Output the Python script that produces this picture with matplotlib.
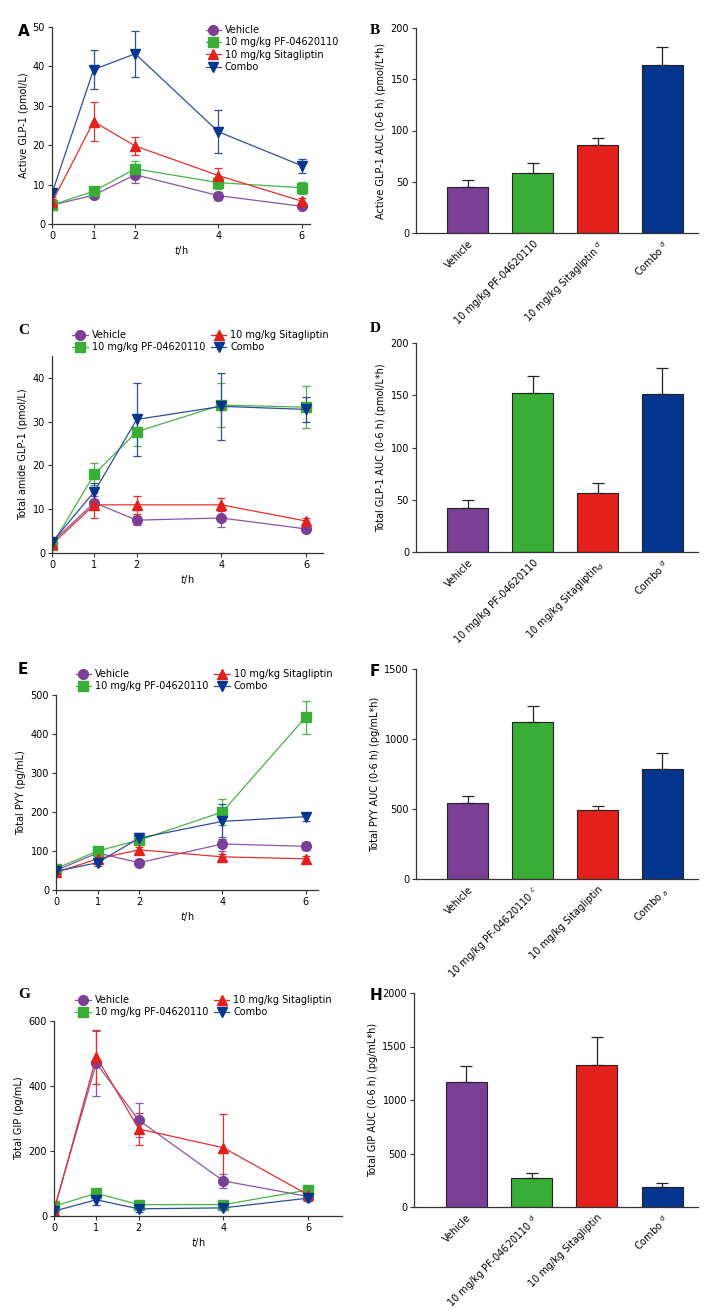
import numpy as np
import matplotlib
matplotlib.use("Agg")
import matplotlib.pyplot as plt
from matplotlib.lines import Line2D

plt.rcParams['font.family'] = ['DejaVu Sans']
plt.rcParams['font.size'] = 7

# --- datos ---
t = [0, 1, 2, 4, 6]
grupos = ['Vehicle', '10 mg/kg PF-04620110', '10 mg/kg Sitagliptin', 'Combo']

# A: Active GLP-1 (pmol/L)
a_veh = [4.8, 7.3, 12.5, 7.2, 4.5]
a_veh_e = [0.5, 0.8, 2.0, 1.0, 0.6]
a_pf = [4.8, 8.3, 14.0, 10.5, 9.2]
a_pf_e = [0.5, 1.2, 2.0, 1.5, 1.5]
a_sit = [5.5, 26.0, 19.8, 12.3, 5.8]
a_sit_e = [0.8, 5.0, 2.3, 1.8, 0.8]
a_com = [7.8, 39.2, 43.2, 23.4, 14.8]
a_com_e = [1.0, 5.0, 5.9, 5.5, 1.8]

# C: Total amide GLP-1 (pmol/L)
c_veh = [2.5, 11.5, 7.5, 8.0, 5.5]
c_veh_e = [0.5, 1.5, 1.0, 2.0, 0.8]
c_pf = [1.8, 18.0, 27.7, 33.8, 33.3]
c_pf_e = [0.5, 2.5, 3.2, 5.0, 4.8]
c_sit = [2.0, 11.0, 11.0, 11.0, 7.3]
c_sit_e = [0.5, 3.0, 2.0, 1.5, 0.8]
c_com = [2.5, 14.0, 30.5, 33.5, 32.8]
c_com_e = [0.5, 2.0, 8.3, 7.7, 2.8]

# E: Total PYY (pg/mL)
e_veh = [50, 95, 70, 118, 112]
e_veh_e = [5, 8, 8, 17, 10]
e_pf = [55, 100, 128, 200, 443]
e_pf_e = [8, 8, 12, 33, 42]
e_sit = [45, 80, 103, 85, 80]
e_sit_e = [5, 8, 8, 8, 8]
e_com = [48, 70, 133, 176, 188]
e_com_e = [5, 8, 13, 45, 10]

# G: Total GIP (pg/mL)
g_veh = [20, 470, 295, 108, 60]
g_veh_e = [5, 100, 52, 22, 8]
g_pf = [30, 70, 35, 35, 80]
g_pf_e = [8, 8, 8, 8, 10]
g_sit = [15, 490, 268, 210, 65]
g_sit_e = [5, 83, 48, 103, 8]
g_com = [15, 50, 22, 25, 55]
g_com_e = [5, 15, 10, 8, 10]

# AUC (barras)
b_auc = [45, 59, 86, 164]
b_err = [7, 9, 7, 17]
d_auc = [42, 152, 56, 151]
d_err = [8, 16, 10, 25]
f_auc = [540, 1125, 490, 785]
f_err = [50, 110, 35, 115]
h_auc = [1170, 275, 1325, 190]
h_err = [145, 40, 260, 35]

b_labels = ['Vehicle', '10 mg/kg PF-04620110', '10 mg/kg Sitagliptin $^{d}$', 'Combo $^{d}$']
d_labels = ['Vehicle', '10 mg/kg PF-04620110', '10 mg/kg Sitagliptin$_{d}$', 'Combo $^{d}$']
f_labels = ['Vehicle', '10 mg/kg PF-04620110 $^{c}$', '10 mg/kg Sitagliptin', 'Combo $_{a}$']
h_labels = ['Vehicle', '10 mg/kg PF-04620110 $^{d}$', '10 mg/kg Sitagliptin', 'Combo $^{d}$']

# --- estilo ---
col_bar = ['#7b3f96', '#3aad36', '#e3201b', '#04368f']
col_lin = ['#8a55a8', '#49b444', '#e3302b', '#2c4f9c']
markers = ['o', 's', '^', 'v']

W, H = 708, 1310
fig = plt.figure(figsize=(W / 100, H / 100), dpi=100)


def caja(l, r, top, bot):
    return [l / W, 1 - bot / H, (r - l) / W, (bot - top) / H]


def estilo(ax):
    for s in ['top', 'right']:
        ax.spines[s].set_visible(False)
    for s in ['left', 'bottom']:
        ax.spines[s].set_color('#333333')
        ax.spines[s].set_linewidth(0.9)
    ax.tick_params(length=3, width=0.8, color='#333333', labelsize=7, pad=2)


def lineas(ax, series, ylim, yticks, ylabel, xmax):
    for i, (y, e) in enumerate(series):
        ax.errorbar(t, y, yerr=e, color=col_lin[i], marker=markers[i],
                    markersize=7, markerfacecolor=col_bar[i],
                    markeredgecolor=col_bar[i], linewidth=0.9,
                    elinewidth=0.9, capsize=3, capthick=0.9)
    ax.set_xlim(0, xmax)
    ax.set_ylim(*ylim)
    ax.set_yticks(yticks)
    ax.set_xticks(t)
    ax.set_ylabel(ylabel, fontsize=7, labelpad=3)
    ax.set_xlabel('$t$/h', fontsize=7, labelpad=2)
    estilo(ax)


def manijas():
    return [Line2D([], [], color=col_lin[i], marker=markers[i], markersize=7,
                   markerfacecolor=col_bar[i], markeredgecolor=col_bar[i],
                   linewidth=0.9, label=grupos[i]) for i in range(4)]


def barras(ax, vals, errs, labels, ylim, yticks, ylabel):
    x = np.arange(len(vals))
    ax.bar(x, vals, width=0.63, color=col_bar, edgecolor='#222222', linewidth=0.8)
    ax.errorbar(x, vals, yerr=[np.zeros(len(errs)), errs], fmt='none',
                ecolor='#222222', elinewidth=0.9, capsize=4, capthick=0.9)
    ax.set_xlim(-0.8, 3.55)
    ax.set_ylim(*ylim)
    ax.set_yticks(yticks)
    ax.set_xticks(x)
    ax.set_xticklabels(labels, rotation=45, ha='right', rotation_mode='anchor', fontsize=6.6)
    ax.set_ylabel(ylabel, fontsize=7, labelpad=3)
    estilo(ax)
    ax.tick_params(axis='x', length=0, pad=4)


def letra(x, y, s, serif=False):
    fam = ['Liberation Serif'] if serif else ['DejaVu Sans']
    fig.text(x / W, 1 - y / H, s, fontsize=11, fontweight='bold', family=fam,
             ha='left', va='center')


def leyenda_arriba(ax):
    ax.legend(handles=manijas(), loc='lower left', bbox_to_anchor=(0.06, 1.0), ncol=2,
              frameon=False, fontsize=7, handlelength=1.6, handletextpad=0.4,
              labelspacing=0.2, columnspacing=0.6, borderaxespad=0)


# --- A ---
axA = fig.add_axes(caja(52, 310, 27, 224))
lineas(axA, [(a_veh, a_veh_e), (a_pf, a_pf_e), (a_sit, a_sit_e), (a_com, a_com_e)],
       (0, 50), range(0, 51, 10), 'Active GLP-1 (pmol/L)', 6.2)
axA.legend(handles=manijas(), loc='upper left', bbox_to_anchor=(0.58, 1.03), frameon=False,
           fontsize=7, handlelength=1.6, handletextpad=0.4, labelspacing=0.25,
           borderaxespad=0)

# --- B ---
axB = fig.add_axes(caja(416, 698, 28, 233))
barras(axB, b_auc, b_err, b_labels, (0, 200), range(0, 201, 50),
       'Active GLP-1 AUC (0-6 h) (pmol/L*h)')

# --- C ---
axC = fig.add_axes(caja(52, 323, 356, 553))
lineas(axC, [(c_veh, c_veh_e), (c_pf, c_pf_e), (c_sit, c_sit_e), (c_com, c_com_e)],
       (0, 45), range(0, 41, 10), 'Total amide GLP-1 (pmol/L)', 6.4)
leyenda_arriba(axC)

# --- D ---
axD = fig.add_axes(caja(416, 698, 343, 552))
barras(axD, d_auc, d_err, d_labels, (0, 200), range(0, 201, 50),
       'Total GLP-1 AUC (0-6 h) (pmol/L*h)')

# --- E ---
axE = fig.add_axes(caja(56, 318, 695, 890))
lineas(axE, [(e_veh, e_veh_e), (e_pf, e_pf_e), (e_sit, e_sit_e), (e_com, e_com_e)],
       (0, 500), range(0, 501, 100), 'Total PYY (pg/mL)', 6.3)
leyenda_arriba(axE)

# --- F ---
axF = fig.add_axes(caja(416, 698, 669, 879))
barras(axF, f_auc, f_err, f_labels, (0, 1500), range(0, 1501, 500),
       'Total PYY AUC (0-6 h) (pg/mL*h)')

# --- G ---
axG = fig.add_axes(caja(54, 342, 1021, 1216))
lineas(axG, [(g_veh, g_veh_e), (g_pf, g_pf_e), (g_sit, g_sit_e), (g_com, g_com_e)],
       (0, 600), range(0, 601, 200), 'Total GIP (pg/mL)', 6.8)
leyenda_arriba(axG)

# --- H ---
axH = fig.add_axes(caja(414, 698, 993, 1207))
barras(axH, h_auc, h_err, h_labels, (0, 2000), range(0, 2001, 500),
       'Total GIP AUC (0-6 h) (pg/mL*h)')

# letras de panel
letra(18, 32, 'A')
letra(370, 30, 'B', serif=True)
letra(18, 330, 'C', serif=True)
letra(370, 328, 'D', serif=True)
letra(18, 670, 'E')
letra(370, 672, 'F')
letra(18, 995, 'G', serif=True)
letra(370, 995, 'H')

fig.savefig('out.png', dpi=100)
